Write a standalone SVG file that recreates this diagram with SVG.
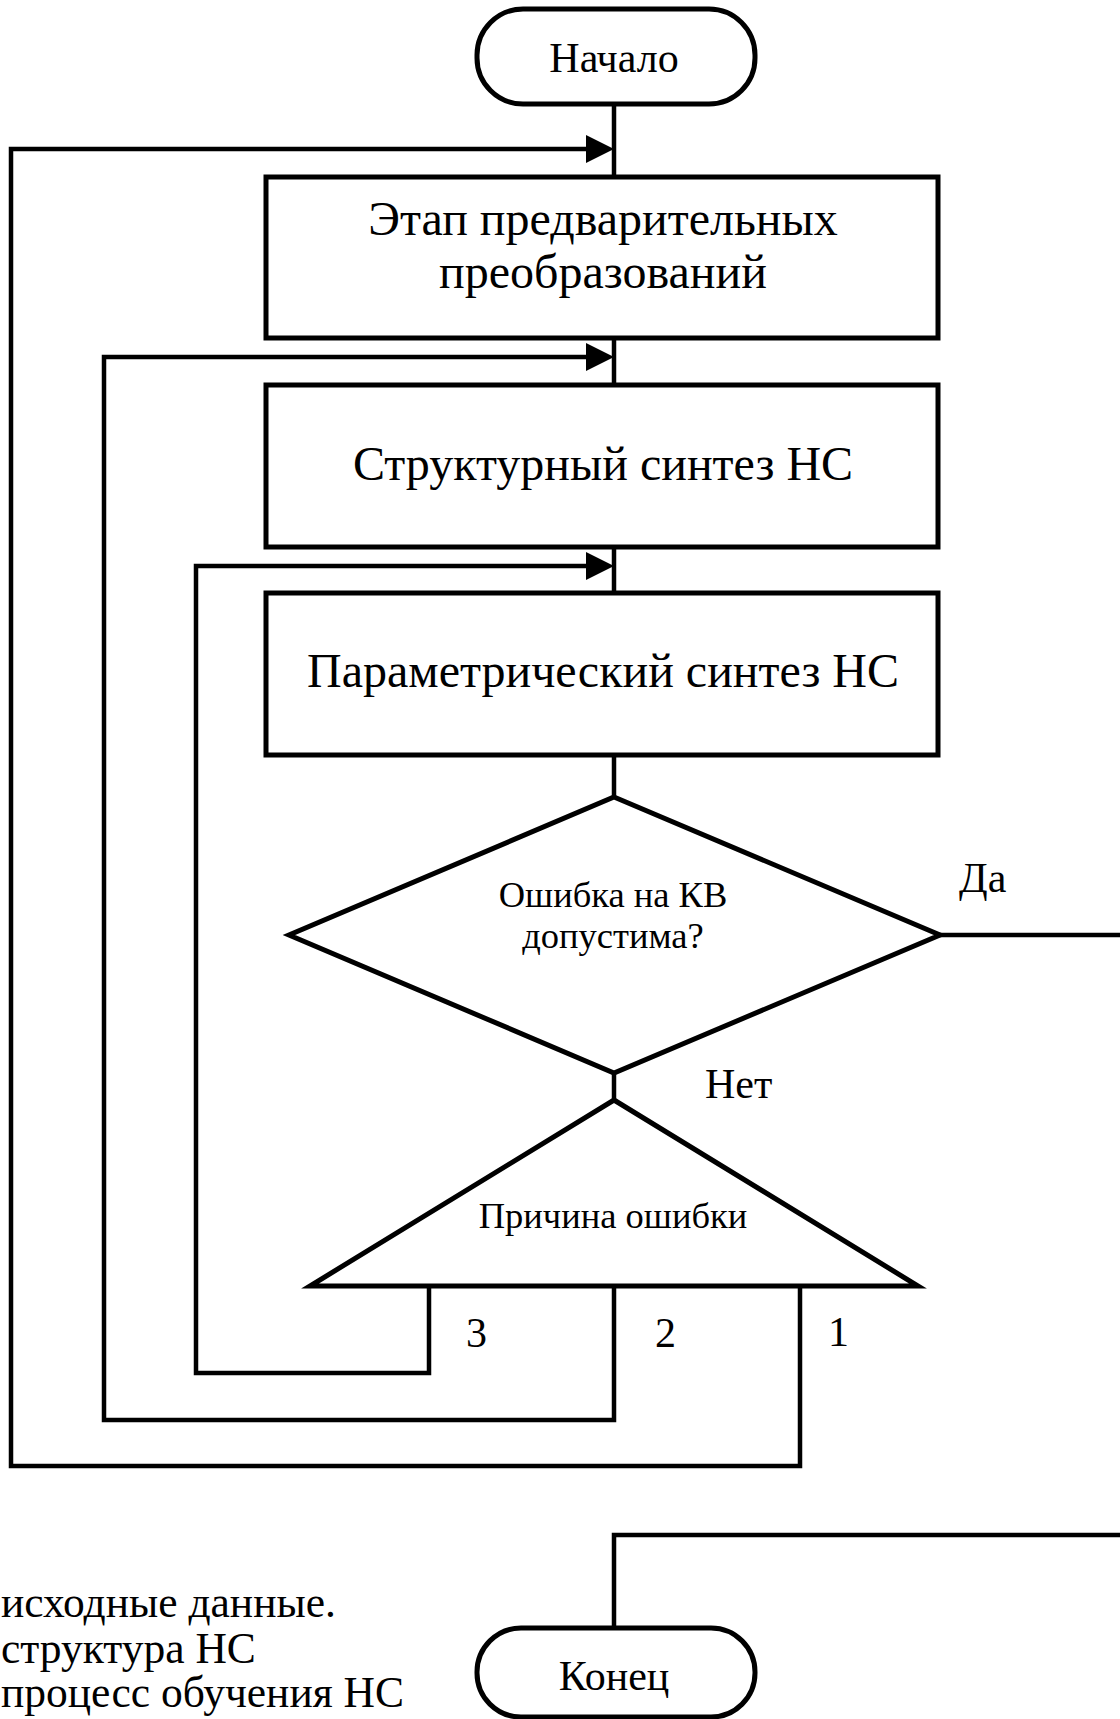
<svg xmlns="http://www.w3.org/2000/svg" width="1120" height="1719" viewBox="0 0 1120 1719">
<defs>
<style>
.shape{fill:#fff;stroke:#000;stroke-width:5}
.line{fill:none;stroke:#000;stroke-width:4.5;stroke-linejoin:miter;stroke-linecap:square}
.t{font-family:"Liberation Serif","Times New Roman",serif;fill:#000}
.big{font-size:48px}
.mid{font-size:42px}
.leg{font-size:43.5px}
.sm{font-size:36.5px}
</style>
</defs>
<rect width="1120" height="1719" fill="#fff"/>
<g id="connectors">
<line class="line" x1="614" y1="104" x2="614" y2="177"/>
<line class="line" x1="614" y1="338" x2="614" y2="385"/>
<line class="line" x1="614" y1="547" x2="614" y2="593"/>
<line class="line" x1="614" y1="755" x2="614" y2="797"/>
<line class="line" x1="614" y1="1073" x2="614" y2="1100"/>
<polyline class="line" points="800,1286 800,1466 11,1466 11,149 586,149"/>
<polyline class="line" points="614,1286 614,1420 104,1420 104,357 586,357"/>
<polyline class="line" points="429,1286 429,1373 196,1373 196,566 586,566"/>
<path d="M586,135 L614,149 L586,163 Z" fill="#000"/>
<path d="M586,343 L614,357 L586,371 Z" fill="#000"/>
<path d="M586,552 L614,566 L586,580 Z" fill="#000"/>
<line class="line" x1="940" y1="935" x2="1122" y2="935"/>
<polyline class="line" points="614,1628 614,1535 1122,1535"/>
<text class="t mid" x="959" y="892">Да</text>
<text class="t mid" x="705" y="1098">Нет</text>
<text class="t mid" x="466" y="1347">3</text>
<text class="t mid" x="655" y="1347">2</text>
<text class="t mid" x="828" y="1346">1</text>
</g>
<g id="start">
<rect class="shape" x="477" y="9" width="278" height="95" rx="46" ry="46"/>
<text class="t mid" x="614" y="72" text-anchor="middle">Начало</text>
</g>
<g id="prep">
<rect class="shape" x="266" y="177" width="672" height="161"/>
<text class="t big" x="603" y="235" text-anchor="middle">Этап предварительных</text>
<text class="t big" x="603" y="288" text-anchor="middle">преобразований</text>
</g>
<g id="struct">
<rect class="shape" x="266" y="385" width="672" height="162"/>
<text class="t big" x="603" y="480" text-anchor="middle">Структурный синтез НС</text>
</g>
<g id="param">
<rect class="shape" x="266" y="593" width="672" height="162"/>
<text class="t big" x="603" y="687" text-anchor="middle">Параметрический синтез НС</text>
</g>
<g id="decision">
<polygon class="shape" points="614,797 940,935 614,1073 289,935"/>
<text class="t sm" x="613" y="907" text-anchor="middle">Ошибка на КВ</text>
<text class="t sm" x="613" y="948" text-anchor="middle">допустима?</text>
</g>
<g id="cause">
<polygon class="shape" points="614,1100 918,1286 310,1286"/>
<text class="t sm" x="613" y="1228" text-anchor="middle">Причина ошибки</text>
</g>
<g id="end">
<rect class="shape" x="477" y="1628" width="278" height="89" rx="44" ry="44"/>
<text class="t mid" x="614" y="1690" text-anchor="middle">Конец</text>
</g>
<g id="legend">
<text class="t leg" x="1" y="1617">исходные данные.</text>
<text class="t leg" x="1" y="1663">структура НС</text>
<text class="t leg" x="1" y="1707">процесс обучения НС</text>
</g>
</svg>
